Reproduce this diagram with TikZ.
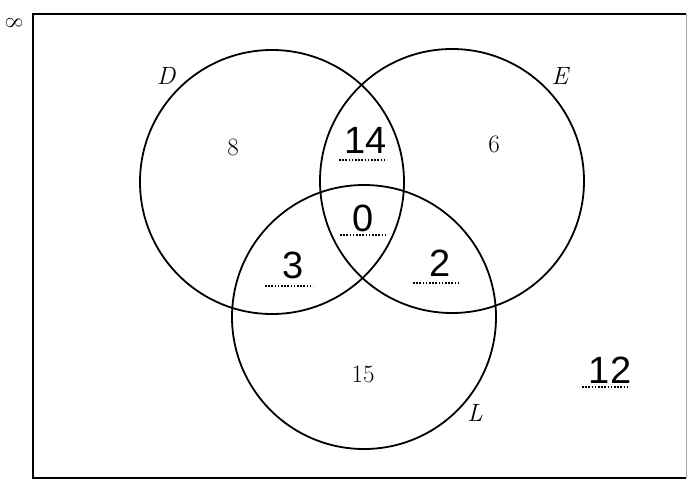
\documentclass[tikz,border=0pt]{standalone}
\usepackage{fontspec}
\newfontfamily\handfont{Liberation Sans}
\begin{document}
\begin{tikzpicture}[x=1pt,y=-1pt,
  setc/.style={circle,draw,line width=1.8pt,minimum size=264pt,inner sep=0pt},
  printed/.style={font=\fontsize{25}{28}\selectfont,inner sep=0pt},
  setname/.style={font=\fontsize{25}{28}\selectfont\itshape,inner sep=0pt},
  hand/.style={font=\handfont\fontsize{38}{40}\selectfont,inner sep=0pt},
  dotline/.style={line width=2pt,dash pattern=on 1.6pt off 1.6pt}]
\useasboundingbox (0,0) rectangle (690,481);
% frame
\draw[line width=2.4pt] (686,14) -- (33,14) -- (33,478) -- (686,478);
\draw[line width=0.8pt,black!35] (686,14) -- (686,478);
\node[inner sep=0pt,font=\fontsize{24}{26}\selectfont,rotate=-90] (qn) at (14,23) {8};
% circles
\node[setc] (D) at (272,182) {};
\node[setc] (E) at (452,181) {};
\node[setc] (L) at (364,317) {};
% set names
\node[setname] (nD) at (166,76) {D};
\node[setname] (nE) at (560,76) {E};
\node[setname] (nL) at (475,413) {L};
% printed numbers
\node[printed] (n8) at (233,147) {8};
\node[printed] (n6) at (494,144) {6};
\node[printed] (n15) at (363,374) {15};
% handwritten answers
\node[hand] (a14) at (366,140) {14};
\node[hand] (a0) at (363,218) {0};
\node[hand] (a3) at (293,265) {3};
\node[hand] (a2) at (440,263) {2};
\node[hand] (a12) at (610,370) {12};
% dotted answer lines
\draw[dotline] (339,160) -- (387,160);
\draw[dotline] (340,235) -- (385,235);
\draw[dotline] (265,286) -- (313,286);
\draw[dotline] (413,283) -- (459,283);
\draw[dotline] (582,387) -- (630,387);
\end{tikzpicture}
\end{document}
